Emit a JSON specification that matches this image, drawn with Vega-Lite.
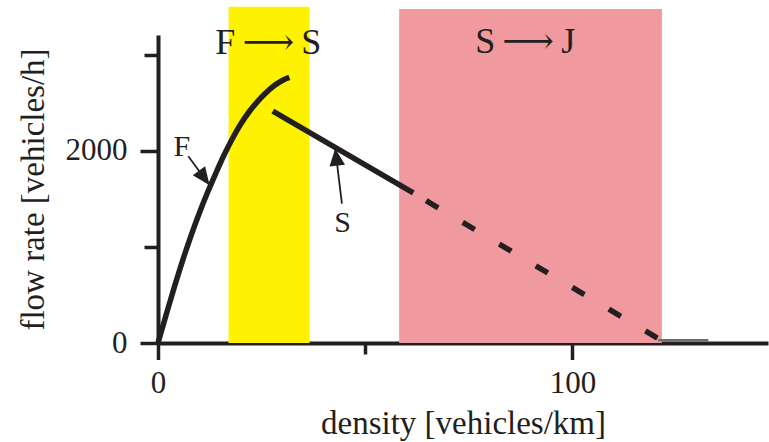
{
  "$schema": "https://vega.github.io/schema/vega-lite/v6.json",
  "width": 610,
  "height": 308,
  "autosize": {"type": "none"},
  "padding": {"left": 158, "top": 35, "right": 1, "bottom": 99},
  "background": "white",
  "config": {
    "view": {"stroke": null},
    "font": "Liberation Serif",
    "axis": {
      "grid": false,
      "domainColor": "#231f20",
      "domainWidth": 4,
      "tickColor": "#231f20",
      "tickWidth": 3.5,
      "labelColor": "#231f20",
      "titleColor": "#231f20",
      "labelFont": "Liberation Serif",
      "titleFont": "Liberation Serif",
      "labelFontSize": 31,
      "titleFontSize": 33,
      "titleFontWeight": "normal",
      "zindex": 1
    }
  },
  "encoding": {
    "x": {
      "field": "x",
      "type": "quantitative",
      "scale": {"domain": [0, 147.2], "nice": false, "zero": false},
      "axis": {
        "values": [0, 50, 100],
        "format": "d",
        "labelExpr": "datum.value === 50 ? '' : datum.label",
        "tickSize": {"condition": {"test": "datum.value === 50", "value": 11}, "value": 16.5},
        "labelBaseline": "alphabetic",
        "labelPadding": 33,
        "labelFlush": false,
        "title": "density [vehicles/km]",
        "titleBaseline": "alphabetic",
        "titleY": 90
      }
    },
    "y": {
      "field": "y",
      "type": "quantitative",
      "scale": {"domain": [0, 3203], "nice": false, "zero": false},
      "axis": {
        "values": [0, 1000, 2000, 3000],
        "format": "d",
        "labelExpr": "datum.value % 2000 === 0 ? datum.label : ''",
        "tickSize": {"condition": {"test": "datum.value % 2000 === 0", "value": 18}, "value": 14},
        "labelBaseline": "middle",
        "labelPadding": 13,
        "labelFlush": false,
        "title": "flow rate [vehicles/h]",
        "titleAngle": -90,
        "titleBaseline": "alphabetic",
        "titleAlign": "center",
        "titleX": -115,
        "titleY": 154
      }
    }
  },
  "layer": [
    {
      "data": {"values": [
        {"zone": "F→S", "x": 17.03, "x2": 36.57, "y": 0, "y2": 3498},
        {"zone": "S→J", "x": 58.2, "x2": 121.6, "y": 0, "y2": 3474}
      ]},
      "mark": {"type": "rect", "opacity": 1, "strokeWidth": 0},
      "encoding": {
        "x2": {"field": "x2"},
        "y2": {"field": "y2"},
        "color": {"field": "zone", "type": "nominal", "scale": {"domain": ["F→S", "S→J"], "range": ["#fff200", "#f09a9f"]}, "legend": null}
      }
    },
    {
      "data": {"values": [
        {"x": 0, "y": 0},
        {"x": 2, "y": 300},
        {"x": 4, "y": 590},
        {"x": 6, "y": 865},
        {"x": 8, "y": 1120},
        {"x": 10, "y": 1355},
        {"x": 12, "y": 1570},
        {"x": 14, "y": 1770},
        {"x": 16, "y": 1960},
        {"x": 18, "y": 2130},
        {"x": 20, "y": 2280},
        {"x": 22, "y": 2405},
        {"x": 24, "y": 2510},
        {"x": 26, "y": 2600},
        {"x": 28, "y": 2675},
        {"x": 30, "y": 2730},
        {"x": 31.7, "y": 2762}
      ]},
      "mark": {"type": "line", "interpolate": "monotone", "strokeWidth": 5.5, "color": "#231f20"}
    },
    {
      "data": {"values": [
        {"x": 27.7, "y": 2411},
        {"x": 61.6, "y": 1560}
      ]},
      "mark": {"type": "line", "strokeWidth": 5.5, "color": "#231f20"}
    },
    {
      "data": {"values": [
        {"x": 61.6, "y": 1560},
        {"x": 120.7, "y": 47}
      ]},
      "mark": {"type": "line", "strokeWidth": 5.5, "color": "#231f20", "strokeDash": [14, 28.5], "strokeDashOffset": 27.5}
    },
    {
      "data": {"values": [
        {"x": 120.7, "y": 28},
        {"x": 132.8, "y": 28}
      ]},
      "mark": {"type": "line", "strokeWidth": 2.5, "color": "#6d6d6d"}
    },
    {
      "data": {"values": [
        {"id": "F", "x": 7.31, "y": 1943},
        {"id": "F", "x": 12.45, "y": 1641},
        {"id": "S", "x": 44.38, "y": 1450},
        {"id": "S", "x": 42.76, "y": 2023}
      ]},
      "mark": {"type": "line", "strokeWidth": 1.8, "color": "#231f20"},
      "encoding": {"detail": {"field": "id"}}
    },
    {
      "data": {"values": [{"x": 12.45, "y": 1641}]},
      "mark": {"type": "point", "shape": "M0,0L-0.85,2L0.85,2Z", "size": 324, "angle": 143.7, "filled": true, "opacity": 1, "color": "#231f20", "strokeWidth": 0}
    },
    {
      "data": {"values": [{"x": 42.76, "y": 2023}]},
      "mark": {"type": "point", "shape": "M0,0L-0.9,2L0.9,2Z", "size": 300, "angle": 353.1, "filled": true, "opacity": 1, "color": "#231f20", "strokeWidth": 0}
    },
    {
      "data": {"values": [
        {"label": "F", "x": 5.74, "y": 1943},
        {"label": "S", "x": 44.57, "y": 1154}
      ]},
      "mark": {"type": "text", "font": "Liberation Serif", "fontSize": 30, "align": "center", "baseline": "alphabetic", "color": "#231f20"},
      "encoding": {"text": {"field": "label"}}
    },
    {
      "data": {"values": [
        {"label": "F\u2009⟶\u2009S", "x": 26.6, "y": 3005},
        {"label": "S\u2009⟶\u2009J", "x": 88.6, "y": 3013}
      ]},
      "mark": {"type": "text", "font": "'Liberation Serif', 'DejaVu Serif', 'DejaVu Sans'", "fontSize": 36, "align": "center", "baseline": "alphabetic", "color": "#231f20"},
      "encoding": {"text": {"field": "label"}}
    }
  ]
}
